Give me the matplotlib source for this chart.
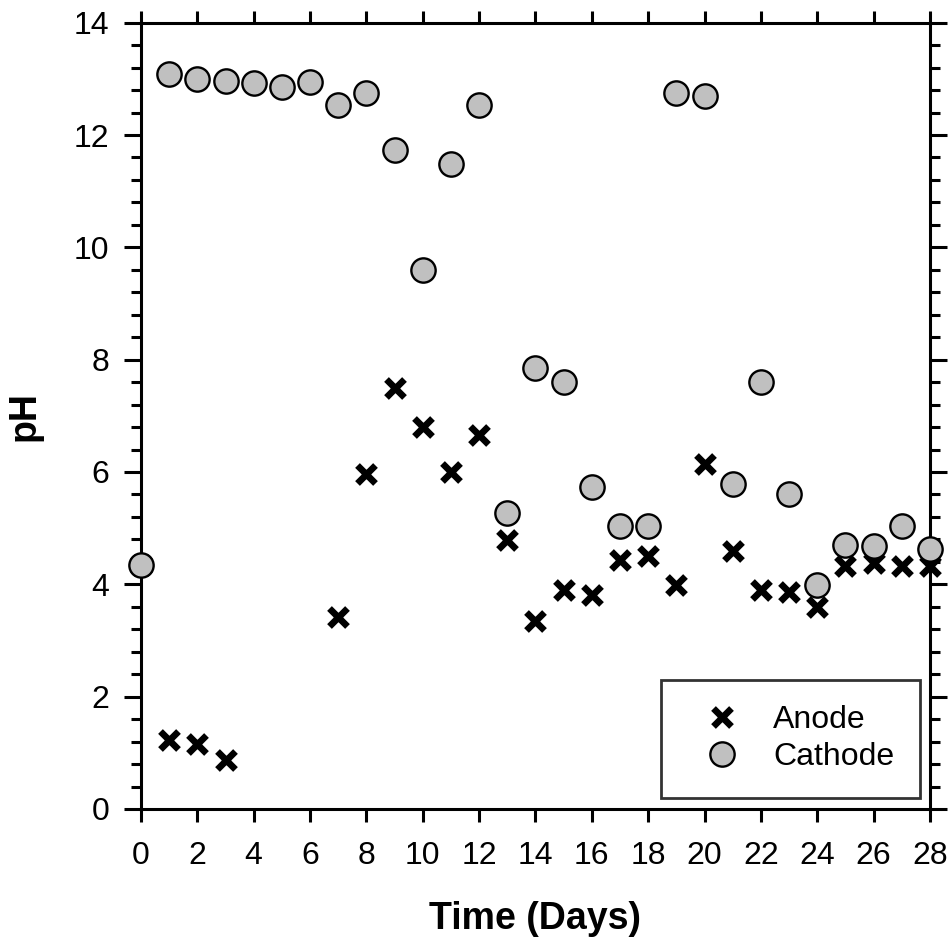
import matplotlib
matplotlib.use("Agg")
import matplotlib.pyplot as plt
from matplotlib.ticker import MultipleLocator

plt.rcParams['font.family'] = ['Liberation Sans', 'DejaVu Sans']

days_anode = [0, 1, 2, 3, 7, 8, 9, 10, 11, 12, 13, 14, 15, 16, 17, 18, 19, 20, 21, 22, 23, 24, 25, 26, 27, 28]
ph_anode = [4.35, 1.23, 1.16, 0.87, 3.42, 5.96, 7.49, 6.80, 6.00, 6.65, 4.79, 3.34, 3.89, 3.81, 4.43, 4.51,
            3.99, 6.14, 4.59, 3.90, 3.86, 3.59, 4.32, 4.38, 4.32, 4.32]

days_cathode = list(range(0, 29))
ph_cathode = [4.34, 13.08, 12.99, 12.97, 12.92, 12.86, 12.95, 12.54, 12.74, 11.73, 9.59, 11.49, 12.54,
              5.27, 7.85, 7.60, 5.73, 5.04, 5.04, 12.74, 12.70, 5.78, 7.60, 5.60, 3.99, 4.70, 4.68, 5.04, 4.63]

xticks = list(range(0, 29, 2))
yticks = list(range(0, 15, 2))

fig = plt.figure(figsize=(9.48, 9.41), dpi=100)
ax = fig.add_axes([0.1487, 0.1403, 0.9810 - 0.1487, 0.9759 - 0.1403])

ax.plot(days_anode, ph_anode, linestyle='none', marker='x', color='black',
        markersize=13.5, markeredgewidth=4.8, label='Anode', zorder=3, clip_on=False)
ax.plot(days_cathode, ph_cathode, linestyle='none', marker='o', markerfacecolor='#c0c0c0',
        markeredgecolor='black', markersize=17.5, markeredgewidth=1.7, label='Cathode', zorder=4, clip_on=False)

ax.set_xlim(0, 28)
ax.set_ylim(0, 14)
ax.set_xticks(xticks)
ax.set_yticks(yticks)
ax.yaxis.set_minor_locator(MultipleLocator(0.4))

for s in ax.spines.values():
    s.set_linewidth(2.2)

ax.tick_params(axis='y', which='major', direction='out', length=12, width=2.2,
               labelsize=23, pad=11, left=True, right=True, labelright=False)
ax.tick_params(axis='x', which='major', direction='out', length=9, width=2.2,
               labelsize=23, pad=14, top=True, bottom=True, labeltop=False)
ax.tick_params(axis='y', which='minor', direction='out', length=7, width=2.2, left=True, right=True)

ax.set_xlabel('Time (Days)', fontsize=27, fontweight='bold', labelpad=22)
ax.set_ylabel('pH', fontsize=27, fontweight='bold', labelpad=22)

leg = ax.legend(loc='lower right', bbox_to_anchor=(0.987, 0.014), borderaxespad=0,
                fontsize=23, frameon=True, fancybox=False, edgecolor='black',
                borderpad=0.8, handletextpad=0.5, labelspacing=0.22, handlelength=2.2,
                markerscale=1.0)
leg.get_frame().set_linewidth(2.0)

fig.savefig('out.png', dpi=100)
